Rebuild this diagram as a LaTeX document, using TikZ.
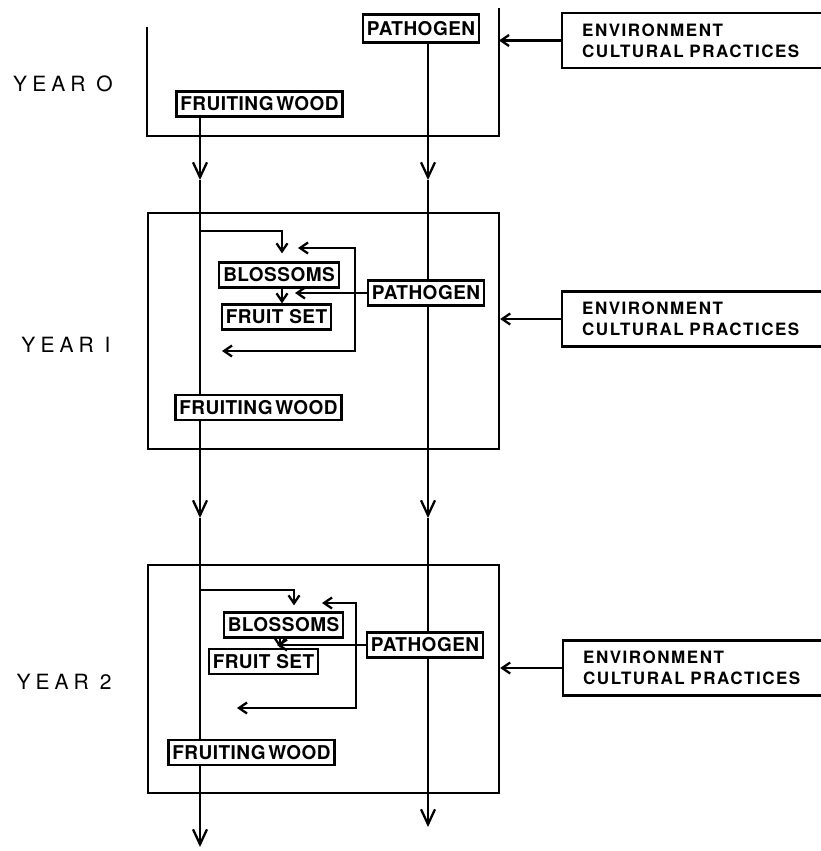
\documentclass[tikz,border=0pt]{standalone}
\usepackage{fontspec}
\setmainfont{TeX Gyre Heros}
\newfontfamily\boxfont[LetterSpace=2.5]{TeX Gyre Heros Bold}
\newfontfamily\yearfont[LetterSpace=24]{TeX Gyre Heros}
\newfontfamily\envfont[LetterSpace=9]{TeX Gyre Heros Bold}
\usetikzlibrary{arrows.meta}
\begin{document}
\begin{tikzpicture}[x=1pt,y=-1pt,line width=2.3pt,line join=miter,
  lbl/.style={draw,line width=2.3pt,inner xsep=4pt,inner ysep=0pt,minimum height=25pt,
    text height=13.7pt,text depth=0pt,font=\boxfont\fontsize{19}{21}\selectfont},
  envbox/.style={draw,line width=2.3pt,anchor=west,minimum height=55pt,text width=250pt,
    align=left,inner xsep=20pt,inner ysep=0pt,font=\envfont\fontsize{17}{21}\selectfont},
  yearlbl/.style={inner sep=0pt,font=\yearfont\fontsize{21}{24}\selectfont},
  frame/.style={draw,line width=2.3pt,inner sep=0pt},
  bigarrow/.style={-{Straight Barb[length=15pt,width=14pt,line width=2.3pt]}},
  smallarrow/.style={-{Straight Barb[length=8pt,width=11pt,line width=2.3pt]}},
  loop/.style={{Straight Barb[length=8pt,width=11pt,line width=2.3pt]}-{Straight Barb[length=8pt,width=11pt,line width=2.3pt]}}
]
\useasboundingbox (0,0) rectangle (821,851);

% year labels
\node[yearlbl] (y0) at (63,84) {YEAR O};
\node[yearlbl] (y1) at (66,345) {YEAR I};
\node[yearlbl] (y2) at (64,682) {YEAR 2};

% columns
\coordinate (cF) at (200,0);
\coordinate (cP) at (428,0);

% ---------- Year 0 ----------
\coordinate (Y0tl) at (147,27);
\coordinate (Y0bl) at (147,136);
\coordinate (Y0br) at (499,136);
\coordinate (Y0tr) at (499,8);
\draw (Y0tl) -- (Y0bl) -- (Y0br) -- (Y0tr);
\node[lbl,minimum height=28pt] (p0) at (421,28.5) {PATHOGEN};
\node[lbl] (fw0) at (259.5,104) {FRUITING\kern-3pt\ WOOD};
\node[envbox] (env0) at (561,40.5) {ENVIRONMENT\\CULTURAL PRACTICES};
\draw[smallarrow] (env0.west) -- (env0.west -| Y0br);

% ---------- Year 1 ----------
\node[frame,minimum width=351pt,minimum height=236pt] (Y1) at (323.5,331) {};
\node[lbl] (b1) at (279,275) {BLOSSOMS};
\node[lbl] (fs1) at (276.5,317) {FRUIT SET};
\node[lbl] (p1) at (426,293) {PATHOGEN};
\node[lbl] (fw1) at (258.5,407.5) {FRUITING\kern-3pt\ WOOD};
\node[envbox] (env1) at (561,319) {ENVIRONMENT\\CULTURAL PRACTICES};
\draw[smallarrow] (env1.west) -- (env1.west -| Y1.east);

\coordinate (br1) at (200,231);
\coordinate (k1) at (282,0);
\draw[smallarrow,shorten >=8pt] (br1) -| (b1.north -| k1);
\draw[smallarrow] (b1.south -| k1) -- (fs1.north -| k1);
\coordinate (pt1) at (295,0);
\draw[smallarrow] (p1.west) -- (p1.west -| pt1);
\coordinate (L1a) at (298,248);
\coordinate (L1b) at (355,248);
\coordinate (L1c) at (355,351);
\coordinate (L1d) at (222,351);
\draw[loop] (L1a) -- (L1b) -- (L1c) -- (L1d);

% ---------- Year 2 ----------
\node[frame,minimum width=351pt,minimum height=228pt] (Y2) at (323.5,679) {};
\node[lbl] (b2) at (283.5,625) {BLOSSOMS};
\node[lbl] (fs2) at (263.5,661.5) {FRUIT SET};
\node[lbl] (p2) at (425,645) {PATHOGEN};
\node[lbl] (fw2) at (251.5,752.5) {FRUITING\kern-3pt\ WOOD};
\node[envbox] (env2) at (562,668) {ENVIRONMENT\\CULTURAL PRACTICES};
\draw[smallarrow] (env2.west) -- (env2.west -| Y2.east);

\coordinate (br2) at (200,590);
\coordinate (k2) at (294,0);
\draw[smallarrow,shorten >=6pt] (br2) -| (b2.north -| k2);
\coordinate (k2b) at (280,0);
\draw[smallarrow] (b2.south -| k2b) -- (fs2.north -| k2b);
\coordinate (pt2) at (277,0);
\draw[smallarrow] (p2.west) -- (p2.west -| pt2);
\coordinate (L2a) at (322,603);
\coordinate (L2b) at (356,603);
\coordinate (L2c) at (356,708);
\coordinate (L2d) at (237,708);
\draw[loop] (L2a) -- (L2b) -- (L2c) -- (L2d);

% ---------- main columns ----------
\coordinate (aF1) at (200,180);
\coordinate (aP1) at (428,180);
\coordinate (aF2) at (200,518);
\coordinate (aP2) at (428,518);
\coordinate (endF) at (200,847);
\coordinate (endP) at (428,827);

\draw[bigarrow] (fw0.south -| cF) -- (aF1);
\draw (aF1) -- (fw1.north -| cF);
\draw[bigarrow] (fw1.south -| cF) -- (aF2);
\draw (aF2) -- (fw2.north -| cF);
\draw[bigarrow] (fw2.south -| cF) -- (endF);

\draw[bigarrow] (p0.south -| cP) -- (aP1);
\draw (aP1) -- (p1.north -| cP);
\draw[bigarrow] (p1.south -| cP) -- (aP2);
\draw (aP2) -- (p2.north -| cP);
\draw[bigarrow] (p2.south -| cP) -- (endP);
\end{tikzpicture}
\end{document}
